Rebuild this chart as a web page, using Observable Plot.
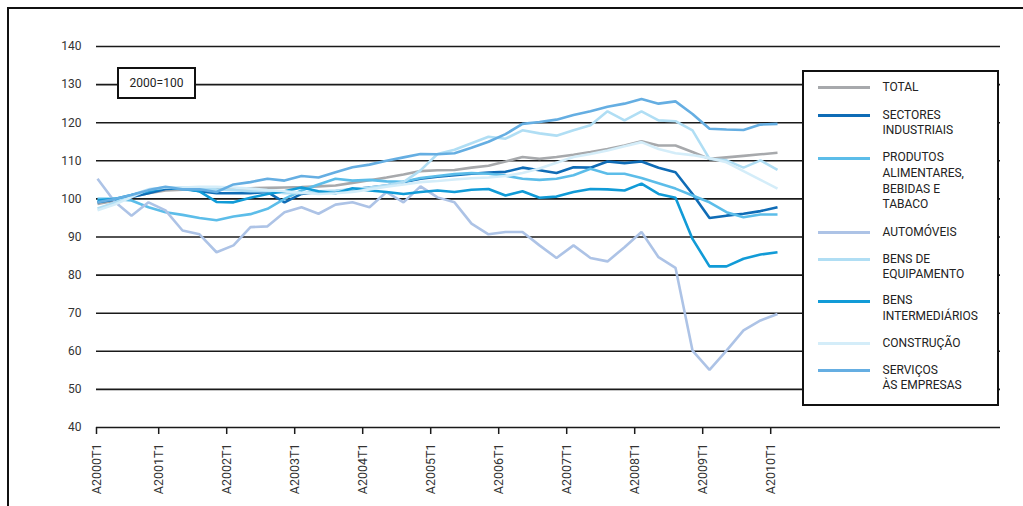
<!DOCTYPE html>
<html>
<head>
<meta charset="utf-8">
<script src="https://cdn.jsdelivr.net/npm/d3@7"></script>
<script src="https://cdn.jsdelivr.net/npm/@observablehq/plot@0.6"></script>
<style>
  html, body { margin: 0; padding: 0; background: #fff; }
  #wrap { position: relative; width: 1023px; height: 506px; overflow: hidden; font-family: Roboto, "DejaVu Sans", sans-serif; }
  #frame { position: absolute; left: 7px; top: 7px; width: 1100px; height: 600px; border-top: 2px solid #111; border-left: 2px solid #111; }
  #chart { position: absolute; left: 0; top: 0; }
  #base { position: absolute; left: 117px; top: 67px; width: 75px; height: 28px; border: 2.5px solid #111; background: #fff; font-size: 12px; color: #222; display: flex; align-items: center; justify-content: center; }
  #legend { position: absolute; left: 802px; top: 70px; width: 193px; height: 332px; border: 2.5px solid #111; background: #fff; }
  .sw { position: absolute; left: 16px; width: 52px; height: 3px; }
  .lt { position: absolute; left: 81px; font-size: 12px; line-height: 15.7px; color: #222; white-space: nowrap; }
</style>
</head>
<body>
<div id="wrap">
  <div id="frame"></div>
  <div id="chart"></div>
  <div id="base">2000=100</div>
  <div id="legend"></div>
</div>
<script>
// ---- data ----
const years = ["2000","2001","2002","2003","2004","2005","2006","2007","2008","2009","2010"];
const quarters = [];
years.forEach(y => ["T1","T2","T3","T4"].forEach(q => quarters.push("A" + y + q)));
quarters.length = 41; // A2000T1 .. A2010T1

const seriesNames = ["TOTAL", "SECTORES INDUSTRIAIS", "PRODUTOS ALIMENTARES, BEBIDAS E TABACO", "AUTOMÓVEIS", "BENS DE EQUIPAMENTO", "BENS INTERMEDIÁRIOS", "CONSTRUÇÃO", "SERVIÇOS ÀS EMPRESAS"];
const legendLines = [["TOTAL"], ["SECTORES", "INDUSTRIAIS"], ["PRODUTOS", "ALIMENTARES,", "BEBIDAS E", "TABACO"], ["AUTOMÓVEIS"], ["BENS DE", "EQUIPAMENTO"], ["BENS", "INTERMEDIÁRIOS"], ["CONSTRUÇÃO"], ["SERVIÇOS", "ÀS EMPRESAS"]];
const colors = ["#a7a9ac", "#0f6cb6", "#5cbde9", "#adc3e6", "#b0def4", "#119bd7", "#d4edf9", "#65aee2"];

const total = [98.7, 99.5, 100.5, 101.5, 102.2, 102.4, 102.5, 102.6, 102.7, 102.8, 102.9, 103, 103.1, 103.3, 103.5, 104.2, 104.9, 105.6, 106.4, 107.3, 107.5, 107.6, 108.2, 108.7, 109.8, 111, 110.5, 111, 111.6, 112.3, 113.1, 114, 115.1, 114, 114, 112.3, 110.5, 110.9, 111.3, 111.7, 112.1];
const sectores = [99.1, 99.8, 100.5, 101.5, 102.6, 102.8, 102, 101.5, 101.5, 101.5, 101.8, 99.1, 101.3, 101.8, 102, 102.5, 103, 103.5, 104.4, 105.3, 105.8, 106.2, 106.6, 106.9, 107.1, 108.2, 107.5, 106.8, 108.3, 108.2, 109.8, 109.4, 109.8, 108.2, 107, 101.3, 95, 95.6, 96.1, 96.8, 97.8];
const produtos = [100, 100, 99.6, 97.8, 96.5, 95.8, 95, 94.4, 95.4, 96, 97.4, 100, 102.2, 103.8, 105.3, 104.8, 105, 104.6, 104.5, 105.5, 106, 106.5, 106.8, 106.6, 106.1, 105.3, 105, 105.3, 106.2, 107.9, 106.6, 106.6, 105.5, 104.1, 102.7, 100.9, 99.1, 96.5, 95.2, 95.9, 95.9];
const automoveis = [105.3, 99.3, 95.6, 99.1, 97, 91.7, 90.7, 86, 87.8, 92.6, 92.8, 96.5, 97.8, 96.1, 98.5, 99.1, 97.8, 101.8, 99.1, 103.3, 100.4, 99.1, 93.5, 90.7, 91.3, 91.3, 87.8, 84.5, 87.8, 84.5, 83.6, 87.3, 91.3, 84.7, 81.9, 60.2, 55.1, 60.2, 65.5, 68.1, 69.8];
const bensEquipamento = [97.5, 99, 101, 102.5, 103, 103, 102.8, 102.5, 102.3, 102, 102, 101.5, 101.5, 102, 102.2, 102.5, 103, 103.6, 104.4, 107.5, 111.8, 112.9, 114.6, 116.3, 115.8, 118, 117.2, 116.6, 118, 119.3, 123, 120.6, 123, 120.6, 120.4, 118, 110.5, 110.1, 108.2, 110.1, 107.6];
const bensIntermedios = [99.6, 100, 101, 102, 103, 102.6, 102, 99.2, 99.1, 100.3, 101.3, 102, 103, 102, 101.5, 102.8, 102.2, 101.8, 101.3, 101.8, 102.2, 101.8, 102.4, 102.6, 100.9, 102, 100.3, 100.6, 101.8, 102.6, 102.5, 102.2, 104, 101.3, 100.3, 89.5, 82.3, 82.3, 84.3, 85.4, 86];
const construcao = [97, 98.5, 100.5, 102.5, 103, 103, 103.2, 103.2, 103, 102.7, 102.3, 102, 101.6, 101.3, 101.5, 101.8, 102.5, 103.2, 103.8, 104.4, 104.7, 105.1, 105.4, 105.6, 106, 106.8, 108, 109.5, 111, 111.8, 112.7, 113.8, 114.9, 113.1, 112, 111.5, 110.7, 109.6, 107.3, 105, 102.7];
const servicos = [99.1, 100, 101, 102.3, 103.2, 102.5, 102.5, 101.8, 103.8, 104.4, 105.3, 104.8, 106, 105.6, 107, 108.3, 109, 110, 110.9, 111.8, 111.7, 112, 113.4, 115, 117, 119.7, 120.2, 120.8, 122, 123, 124.2, 125, 126.2, 125, 125.6, 122.3, 118.4, 118.2, 118.1, 119.5, 119.7];

const yTicks = [40, 50, 60, 70, 80, 90, 100, 110, 120, 130, 140];
// category ticks (one per year, first quarter); the axis marks sit just before each T1 point
const xTickIdx = [0, 4, 8, 12, 16, 20, 24, 28, 32, 36, 40];
const tickShift = 0.4;
const xTickPos = xTickIdx.map((i, k) => k === 0 ? -1/17 : i - tickShift);

// ---- table ----
const allSeries = [total, sectores, produtos, automoveis, bensEquipamento, bensIntermedios, construcao, servicos];
const table = allSeries.flatMap((vals, s) => vals.map((v, i) => ({series: seriesNames[s], i, v})));

const chart = Plot.plot({
  width: 1023,
  height: 506,
  marginLeft: 96,
  marginRight: 23,
  marginTop: 46,
  marginBottom: 79,
  style: {fontFamily: "Roboto, 'DejaVu Sans', sans-serif", fontSize: "12px", color: "#333", background: "transparent"},
  x: {type: "linear", domain: [-1/17, 903/17]},
  y: {domain: [40, 140]},
  color: {domain: seriesNames, range: colors},
  marks: [
    Plot.ruleY(yTicks, {stroke: "#1a1a1a", strokeWidth: 1.6}),
    Plot.axisY({ticks: yTicks, tickSize: 0, tickPadding: 15, fontSize: 12, label: null}),
    Plot.axisX({ticks: xTickPos, tickFormat: (d, k) => quarters[xTickIdx[k]], tickRotate: -90, tickSize: 7, tickPadding: 9, fontSize: 12.5, label: null, stroke: "#1a1a1a", strokeWidth: 1.5}),
    Plot.line(table, {x: "i", y: "v", z: "series", stroke: "series", strokeWidth: 2.6, strokeLinejoin: "miter", strokeLinecap: "butt"})
  ]
});
document.getElementById("chart").appendChild(chart);

// ---- legend ----
const legendY = [88, 116, 158.5, 233, 260, 301.5, 344, 371];
const leg = document.getElementById("legend");
const boxTop = 70 + 2.5;
const boxLeft = 802 + 2.5;
seriesNames.forEach((name, k) => {
  const sw = document.createElement("div");
  sw.className = "sw";
  sw.style.background = colors[k];
  sw.style.left = (818 - boxLeft) + "px";
  sw.style.top = (legendY[k] - 1.5 - boxTop) + "px";
  leg.appendChild(sw);
  const t = document.createElement("div");
  t.className = "lt";
  t.style.left = (883 - boxLeft) + "px";
  t.style.top = (legendY[k] - 7.85 - boxTop) + "px";
  t.innerHTML = legendLines[k].join("<br>");
  leg.appendChild(t);
});
</script>
</body>
</html>
